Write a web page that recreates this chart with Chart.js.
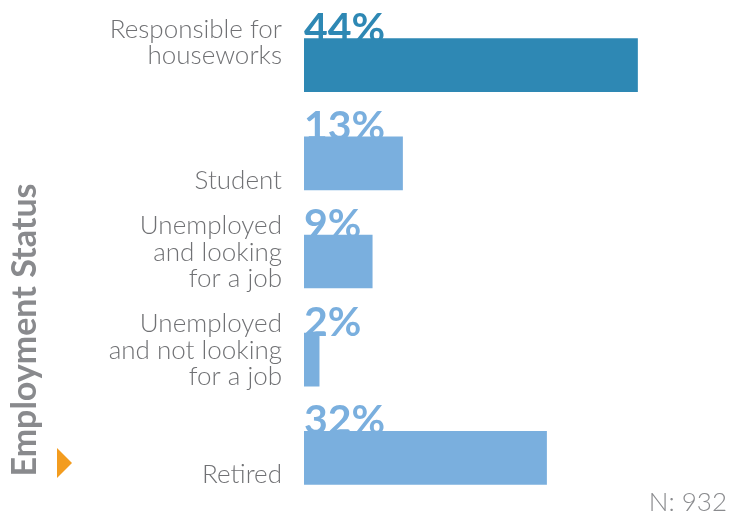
<!DOCTYPE html>
<html>
<head>
<meta charset="utf-8">
<script src="https://cdn.jsdelivr.net/npm/chart.js@4"></script>
<style>
  html, body { margin: 0; padding: 0; background: #fff; }
  #wrap { position: relative; width: 737px; height: 517px; }
</style>
</head>
<body>
<div id="wrap"><canvas id="bars" width="737" height="517"></canvas></div>
<script>
/* ---- data ---- */
const categories = [
  ['Responsible for', 'houseworks', ''],
  ['Student'],
  ['Unemployed', 'and looking', 'for a job'],
  ['Unemployed', 'and not looking', 'for a job'],
  ['Retired']
];
const shares = [44, 13, 9, 2, 32];
const barColors = ['#2e88b4', '#7aafde', '#7aafde', '#7aafde', '#7aafde'];
const axisTitle = 'Employment Status';
const sampleNote = 'N: 932';

const GREY = '#707174';
const FONT = 'Lato, "Open Sans", sans-serif';

/* ---- labels, axis title and note ---- */
const decorations = {
  id: 'decorations',
  beforeDatasetsDraw(chart) {
    const { ctx } = chart;
    const meta = chart.getDatasetMeta(0);
    ctx.save();
    ctx.font = 'bold 41px ' + FONT;
    ctx.textAlign = 'left';
    ctx.textBaseline = 'alphabetic';
    meta.data.forEach((bar, i) => {
      const top = bar.y - bar.height / 2;
      ctx.fillStyle = barColors[i];
      ctx.fillText(shares[i] + '%', chart.chartArea.left, top + 3);
    });
    ctx.restore();
  },
  afterDraw(chart) {
    const { ctx } = chart;
    const meta = chart.getDatasetMeta(0);
    ctx.save();

    // category names, bottom lines sitting on the bar bottoms
    ctx.font = '300 26px ' + FONT;
    ctx.fillStyle = GREY;
    ctx.textAlign = 'right';
    ctx.textBaseline = 'alphabetic';
    meta.data.forEach((bar, i) => {
      const bottom = bar.y + bar.height / 2;
      const lines = categories[i];
      lines.forEach((line, j) => {
        const y = bottom - 1 - (lines.length - 1 - j) * 26.5;
        ctx.fillText(line, 282, y);
      });
    });

    // rotated axis title
    ctx.save();
    ctx.translate(36, 330);
    ctx.rotate(-Math.PI / 2);
    ctx.font = 'bold 34px ' + FONT;
    ctx.fillStyle = '#898a8d';
    ctx.textAlign = 'center';
    ctx.fillText(axisTitle, 0, 0);
    ctx.restore();

    // orange marker
    ctx.fillStyle = '#f39c1f';
    ctx.beginPath();
    ctx.moveTo(57, 448);
    ctx.lineTo(72, 463);
    ctx.lineTo(57, 478);
    ctx.closePath();
    ctx.fill();

    // sample size
    ctx.font = '300 26px ' + FONT;
    ctx.fillStyle = '#8a8b8e';
    ctx.textAlign = 'right';
    ctx.fillText(sampleNote, 727, 511);

    ctx.restore();
  }
};

new Chart(document.getElementById('bars'), {
  type: 'bar',
  data: {
    labels: categories.map(c => c.join(' ').trim()),
    datasets: [{
      data: shares,
      backgroundColor: barColors,
      borderWidth: 0,
      barThickness: 53
    }]
  },
  options: {
    indexAxis: 'y',
    responsive: false,
    animation: false,
    layout: { padding: { left: 304, right: 54, top: 16, bottom: 10 } },
    scales: {
      x: { display: false, min: 0, max: 50 },
      y: { display: false }
    },
    plugins: {
      legend: { display: false },
      tooltip: { enabled: false }
    }
  },
  plugins: [decorations]
});
</script>
</body>
</html>
